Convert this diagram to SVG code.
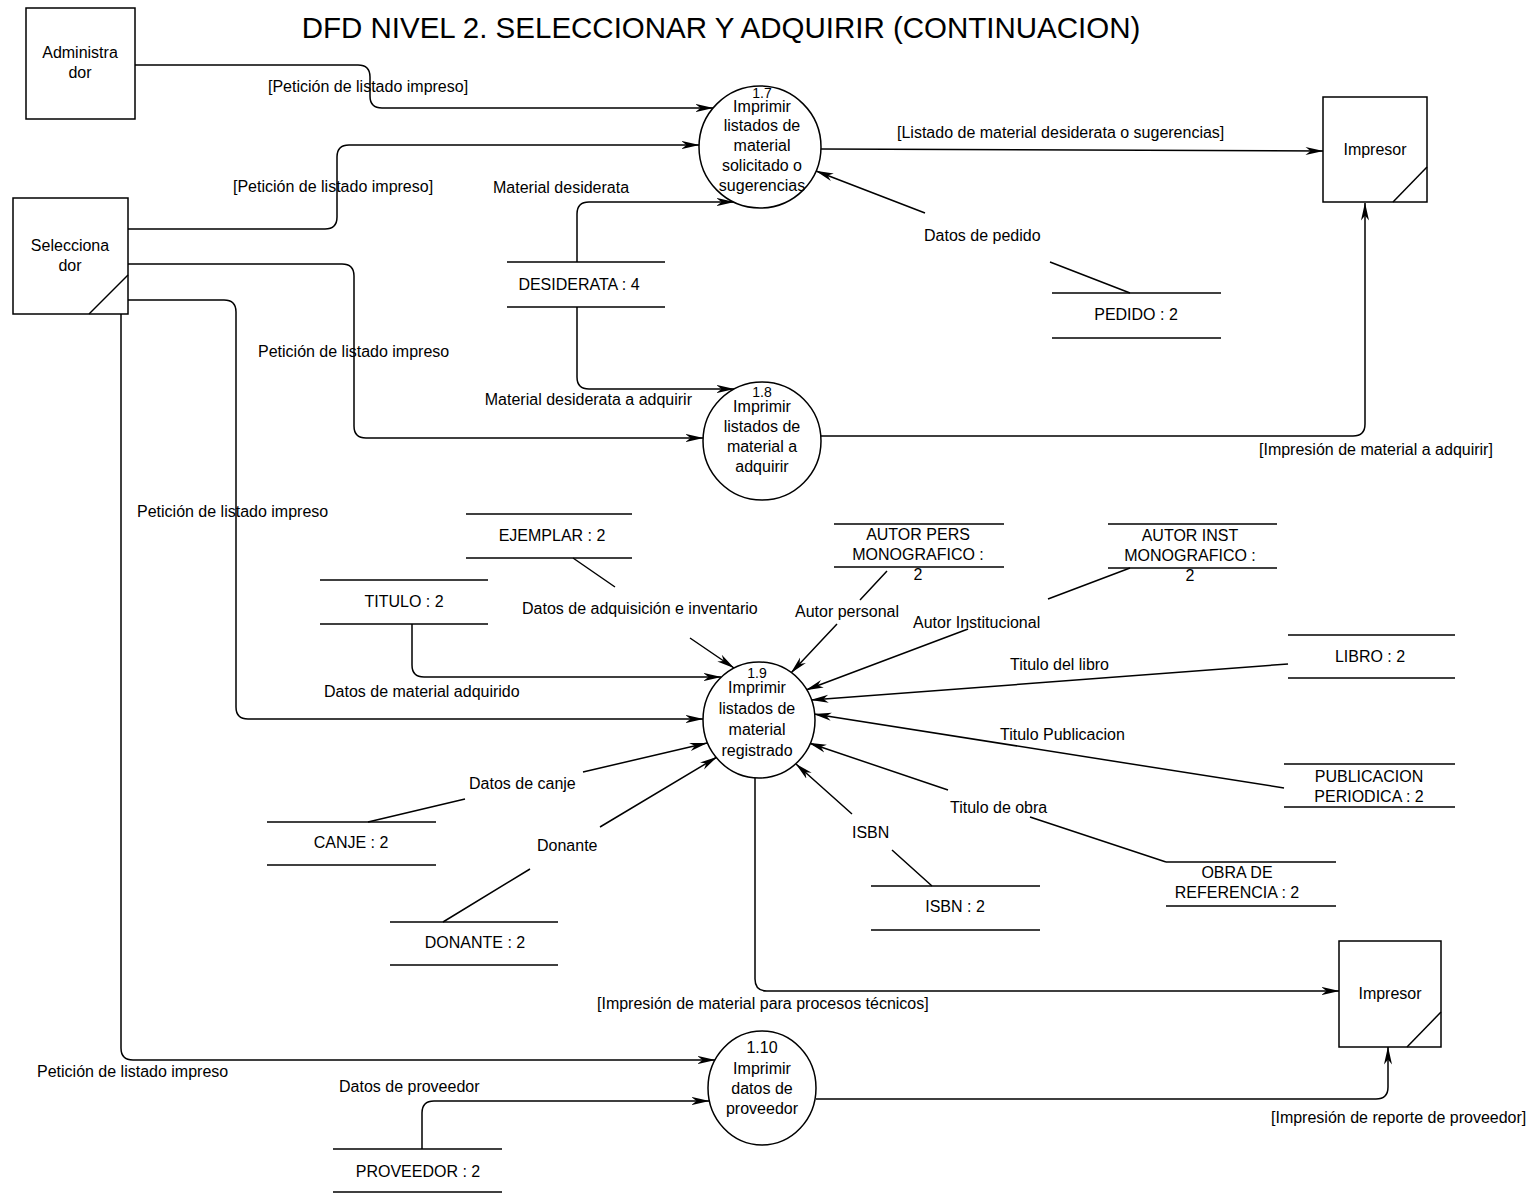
<svg xmlns="http://www.w3.org/2000/svg" width="1533" height="1194" viewBox="0 0 1533 1194">
<defs>
<style>
text{font-family:"Liberation Sans",Arial,sans-serif;font-size:16px;fill:#000}
.title{font-size:29.5px}
.num{font-size:14px}
.m{text-anchor:middle}
.e{text-anchor:end}
.box,.proc{fill:#fff;stroke:#000;stroke-width:1.5}
.st{stroke:#000;stroke-width:1.5;fill:none}
.c{fill:none;stroke:#000;stroke-width:1.5}
.a{marker-end:url(#arr)}
</style>
<marker id="arr" viewBox="0 0 18 10" refX="17.5" refY="5" markerWidth="18" markerHeight="10" markerUnits="userSpaceOnUse" orient="auto">
<path d="M0,1 L18,5 L0,9 L5,5 Z" fill="#000"/>
</marker>
</defs>
<rect width="1533" height="1194" fill="#fff"/>
<text class="title m" x="721" y="38">DFD NIVEL 2. SELECCIONAR Y ADQUIRIR (CONTINUACION)</text>

<g id="connectors">
<path class="c a" d="M135,65 H358 Q370,65 370,77 V96 Q370,108 382,108 H713"/>
<path class="c a" d="M128,229 H325 Q337,229 337,217 V157 Q337,145 349,145 H699"/>
<path class="c a" d="M577,262 V214 Q577,202 589,202 H734"/>
<path class="c a" d="M577,307 V377 Q577,389 589,389 H734"/>
<path class="c a" d="M128,264 H342 Q354,264 354,276 V426 Q354,438 366,438 H703"/>
<path class="c a" d="M128,300 H224 Q236,300 236,312 V707 Q236,719 248,719 H703"/>
<path class="c a" d="M121,314 V1048 Q121,1060 133,1060 H715"/>
<path class="c a" d="M821,149 L1323,151"/>
<path class="c a" d="M1130,293 L1050,262 M925,213 L816,171"/>
<path class="c a" d="M821,436 H1353 Q1365,436 1365,424 V203"/>
<path class="c a" d="M412,624 V665 Q412,677 424,677 H721"/>
<path class="c a" d="M573,558 L615,587 M690,638 L734,668"/>
<path class="c a" d="M887,571 L860,600 M837,624 L791,673"/>
<path class="c a" d="M1130,568 L1048,599 M968,629 L806,690"/>
<path class="c a" d="M1288,664 L811,700"/>
<path class="c a" d="M1284,788 L814,714"/>
<path class="c a" d="M1166,862 L1030,817 M948,790 L809,743"/>
<path class="c a" d="M932,886 L892,850 M852,814 L796,764"/>
<path class="c a" d="M368,822 L465,799 M583,772 L707,743"/>
<path class="c a" d="M443,922 L530,869 M600,827 L717,757"/>
<path class="c a" d="M755,778 V979 Q755,991 767,991 H1339"/>
<path class="c a" d="M422,1149 V1113 Q422,1101 434,1101 H709"/>
<path class="c a" d="M816,1099 H1376 Q1388,1099 1388,1087 V1047"/>
</g>

<g id="labels">
<text x="268" y="92">[Petición de listado impreso]</text>
<text x="233" y="192">[Petición de listado impreso]</text>
<text x="493" y="193">Material desiderata</text>
<text x="897" y="138">[Listado de material desiderata o sugerencias]</text>
<text x="924" y="241">Datos de pedido</text>
<text x="258" y="357">Petición de listado impreso</text>
<text class="e" x="692" y="405">Material desiderata a adquirir</text>
<text x="1259" y="455">[Impresión de material a adquirir]</text>
<text x="137" y="517">Petición de listado impreso</text>
<text x="522" y="614">Datos de adquisición e inventario</text>
<text x="795" y="617">Autor personal</text>
<text x="913" y="628">Autor Institucional</text>
<text x="1010" y="670">Titulo del libro</text>
<text x="324" y="697">Datos de material adquirido</text>
<text x="1000" y="740">Titulo Publicacion</text>
<text x="469" y="789">Datos de canje</text>
<text x="950" y="813">Titulo de obra</text>
<text x="852" y="838">ISBN</text>
<text x="537" y="851">Donante</text>
<text x="597" y="1009">[Impresión de material para procesos técnicos]</text>
<text x="37" y="1077">Petición de listado impreso</text>
<text x="339" y="1092">Datos de proveedor</text>
<text x="1271" y="1123">[Impresión de reporte de proveedor]</text>
</g>

<g id="administrador">
<rect class="box" x="26" y="8" width="109" height="111"/>
<text class="m" x="80" y="58">Administra</text>
<text class="m" x="80" y="78">dor</text>
</g>
<g id="seleccionador">
<rect class="box" x="13" y="198" width="115" height="116"/>
<line class="st" x1="89" y1="314" x2="128" y2="275"/>
<text class="m" x="70" y="251">Selecciona</text>
<text class="m" x="70" y="271">dor</text>
</g>
<g id="impresor1">
<rect class="box" x="1323" y="97" width="104" height="105"/>
<line class="st" x1="1393" y1="202" x2="1427" y2="167"/>
<text class="m" x="1375" y="155">Impresor</text>
</g>
<g id="impresor2">
<rect class="box" x="1339" y="941" width="102" height="106"/>
<line class="st" x1="1407" y1="1047" x2="1441" y2="1012"/>
<text class="m" x="1390" y="999">Impresor</text>
</g>

<g id="p1_7">
<circle class="proc" cx="760" cy="147" r="61"/>
<text class="m num" x="762" y="98">1.7</text>
<text class="m" x="762" y="112">Imprimir</text>
<text class="m" x="762" y="131">listados de</text>
<text class="m" x="762" y="151">material</text>
<text class="m" x="762" y="171">solicitado o</text>
<text class="m" x="762" y="191">sugerencias</text>
</g>
<g id="p1_8">
<circle class="proc" cx="762" cy="441" r="59"/>
<text class="m num" x="762" y="397">1.8</text>
<text class="m" x="762" y="412">Imprimir</text>
<text class="m" x="762" y="432">listados de</text>
<text class="m" x="762" y="452">material a</text>
<text class="m" x="762" y="472">adquirir</text>
</g>
<g id="p1_9">
<ellipse class="proc" cx="759" cy="720" rx="56" ry="58"/>
<text class="m num" x="757" y="678">1.9</text>
<text class="m" x="757" y="693">Imprimir</text>
<text class="m" x="757" y="714">listados de</text>
<text class="m" x="757" y="735">material</text>
<text class="m" x="757" y="756">registrado</text>
</g>
<g id="p1_10">
<ellipse class="proc" cx="762" cy="1088" rx="54" ry="57"/>
<text class="m" x="762" y="1053">1.10</text>
<text class="m" x="762" y="1074">Imprimir</text>
<text class="m" x="762" y="1094">datos de</text>
<text class="m" x="762" y="1114">proveedor</text>
</g>

<g id="desiderata">
<line class="st" x1="507" y1="262" x2="665" y2="262"/><line class="st" x1="507" y1="307" x2="665" y2="307"/>
<text class="m" x="579" y="290">DESIDERATA : 4</text>
</g>
<g id="pedido">
<line class="st" x1="1052" y1="293" x2="1221" y2="293"/><line class="st" x1="1052" y1="338" x2="1221" y2="338"/>
<text class="m" x="1136" y="320">PEDIDO : 2</text>
</g>
<g id="ejemplar">
<line class="st" x1="466" y1="514" x2="632" y2="514"/><line class="st" x1="466" y1="558" x2="632" y2="558"/>
<text class="m" x="552" y="541">EJEMPLAR : 2</text>
</g>
<g id="titulo">
<line class="st" x1="320" y1="580" x2="488" y2="580"/><line class="st" x1="320" y1="624" x2="488" y2="624"/>
<text class="m" x="404" y="607">TITULO : 2</text>
</g>
<g id="autor_pers">
<line class="st" x1="834" y1="524" x2="1004" y2="524"/><line class="st" x1="834" y1="567" x2="1004" y2="567"/>
<text class="m" x="918" y="540">AUTOR PERS</text>
<text class="m" x="918" y="560">MONOGRAFICO :</text>
<text class="m" x="918" y="580">2</text>
</g>
<g id="autor_inst">
<line class="st" x1="1108" y1="524" x2="1277" y2="524"/><line class="st" x1="1108" y1="568" x2="1277" y2="568"/>
<text class="m" x="1190" y="541">AUTOR INST</text>
<text class="m" x="1190" y="561">MONOGRAFICO :</text>
<text class="m" x="1190" y="581">2</text>
</g>
<g id="libro">
<line class="st" x1="1288" y1="635" x2="1455" y2="635"/><line class="st" x1="1288" y1="678" x2="1455" y2="678"/>
<text class="m" x="1370" y="662">LIBRO : 2</text>
</g>
<g id="publicacion">
<line class="st" x1="1284" y1="764" x2="1455" y2="764"/><line class="st" x1="1284" y1="807" x2="1455" y2="807"/>
<text class="m" x="1369" y="782">PUBLICACION</text>
<text class="m" x="1369" y="802">PERIODICA : 2</text>
</g>
<g id="obra">
<line class="st" x1="1166" y1="862" x2="1336" y2="862"/><line class="st" x1="1166" y1="906" x2="1336" y2="906"/>
<text class="m" x="1237" y="878">OBRA DE</text>
<text class="m" x="1237" y="898">REFERENCIA : 2</text>
</g>
<g id="isbn">
<line class="st" x1="871" y1="886" x2="1040" y2="886"/><line class="st" x1="871" y1="930" x2="1040" y2="930"/>
<text class="m" x="955" y="912">ISBN : 2</text>
</g>
<g id="canje">
<line class="st" x1="267" y1="822" x2="436" y2="822"/><line class="st" x1="267" y1="865" x2="436" y2="865"/>
<text class="m" x="351" y="848">CANJE : 2</text>
</g>
<g id="donante">
<line class="st" x1="390" y1="922" x2="558" y2="922"/><line class="st" x1="390" y1="965" x2="558" y2="965"/>
<text class="m" x="475" y="948">DONANTE : 2</text>
</g>
<g id="proveedor">
<line class="st" x1="333" y1="1149" x2="502" y2="1149"/><line class="st" x1="333" y1="1192" x2="502" y2="1192"/>
<text class="m" x="418" y="1177">PROVEEDOR : 2</text>
</g>
</svg>
